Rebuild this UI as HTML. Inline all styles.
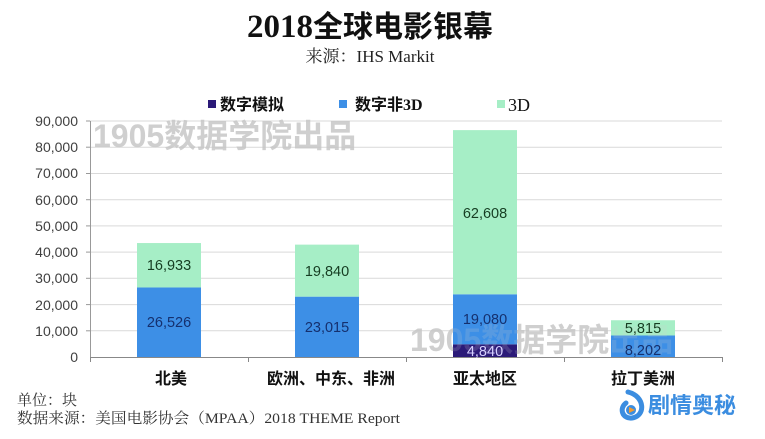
<!DOCTYPE html>
<html>
<head>
<meta charset="utf-8">
<style>
  html,body{margin:0;padding:0;background:#fff;}
  svg{display:block;}
</style>
</head>
<body>
<svg width="765" height="439" viewBox="0 0 765 439" xmlns="http://www.w3.org/2000/svg">
  <rect width="765" height="439" fill="#fff"/>

  <!-- Title -->
  <text x="370" y="37" text-anchor="middle" font-family="'Liberation Serif','Noto Sans CJK SC',serif" font-weight="bold" font-size="33" fill="#111">2018<tspan font-family="'Noto Sans CJK SC',sans-serif" font-size="30">全球电影银幕</tspan></text>
  <text x="370" y="62" text-anchor="middle" font-family="'Liberation Serif','Noto Serif CJK SC',serif" font-size="17" fill="#222">来源：IHS  Markit</text>

  <!-- Legend -->
  <rect x="208" y="100" width="8" height="8" fill="#2b1a78"/>
  <text x="220" y="110" font-family="'Liberation Serif','Noto Sans CJK SC',sans-serif" font-weight="bold" font-size="16" fill="#111">数字模拟</text>
  <rect x="339" y="100" width="8" height="8" fill="#3d8fe6"/>
  <text x="355" y="110" font-family="'Liberation Serif','Noto Sans CJK SC',sans-serif" font-weight="bold" font-size="16" fill="#111">数字非3D</text>
  <rect x="497" y="100" width="8" height="8" fill="#a6eec6"/>
  <text x="508" y="111" font-family="'Liberation Serif','Noto Sans CJK SC',serif" font-size="18" fill="#111">3D</text>

  <!-- Gridlines -->
  <g stroke="#d9d9d9" stroke-width="1">
    <line x1="90" y1="121" x2="722" y2="121"/>
    <line x1="90" y1="147.2" x2="722" y2="147.2"/>
    <line x1="90" y1="173.5" x2="722" y2="173.5"/>
    <line x1="90" y1="199.7" x2="722" y2="199.7"/>
    <line x1="90" y1="225.9" x2="722" y2="225.9"/>
    <line x1="90" y1="252.1" x2="722" y2="252.1"/>
    <line x1="90" y1="278.3" x2="722" y2="278.3"/>
    <line x1="90" y1="304.6" x2="722" y2="304.6"/>
    <line x1="90" y1="330.8" x2="722" y2="330.8"/>
  </g>

  <!-- Watermark 1 -->
  <text x="93" y="147" font-family="'Liberation Sans','Noto Sans CJK SC',sans-serif" font-weight="bold" font-size="32" fill="#c4c4c4" opacity="0.8">1905数据学院出品</text>
  <!-- Watermark 2 (under bars) -->
  <text x="410" y="351" font-family="'Liberation Sans','Noto Sans CJK SC',sans-serif" font-weight="bold" font-size="32" fill="#c4c4c4" opacity="0.8">1905数据学院出品</text>

  <!-- Y axis labels -->
  <g font-family="'Liberation Sans',sans-serif" font-size="14" fill="#404040" text-anchor="end">
    <text x="78" y="126">90,000</text>
    <text x="78" y="152">80,000</text>
    <text x="78" y="178">70,000</text>
    <text x="78" y="205">60,000</text>
    <text x="78" y="231">50,000</text>
    <text x="78" y="257">40,000</text>
    <text x="78" y="283">30,000</text>
    <text x="78" y="310">20,000</text>
    <text x="78" y="336">10,000</text>
    <text x="78" y="362">0</text>
  </g>

  <!-- Axes -->
  <g stroke="#999" stroke-width="1">
    <line x1="90.5" y1="121" x2="90.5" y2="357"/>
    <line x1="86" y1="121" x2="90" y2="121"/>
    <line x1="86" y1="147.2" x2="90" y2="147.2"/>
    <line x1="86" y1="173.5" x2="90" y2="173.5"/>
    <line x1="86" y1="199.7" x2="90" y2="199.7"/>
    <line x1="86" y1="225.9" x2="90" y2="225.9"/>
    <line x1="86" y1="252.1" x2="90" y2="252.1"/>
    <line x1="86" y1="278.3" x2="90" y2="278.3"/>
    <line x1="86" y1="304.6" x2="90" y2="304.6"/>
    <line x1="86" y1="330.8" x2="90" y2="330.8"/>
  </g>

  <!-- Bars -->
  <rect x="137" y="287.45" width="64" height="69.55" fill="#3d8fe6"/>
  <rect x="137" y="243.05" width="64" height="44.4" fill="#a6eec6"/>
  <rect x="295" y="296.65" width="64" height="60.35" fill="#3d8fe6"/>
  <rect x="295" y="244.63" width="64" height="52.02" fill="#a6eec6"/>
  <rect x="453" y="344.31" width="64" height="12.69" fill="#2b1a78"/>
  <rect x="453" y="294.28" width="64" height="50.03" fill="#3d8fe6"/>
  <rect x="453" y="130.12" width="64" height="164.16" fill="#a6eec6"/>
  <rect x="611" y="335.49" width="64" height="21.51" fill="#3d8fe6"/>
  <rect x="611" y="320.24" width="64" height="15.25" fill="#a6eec6"/>

  <!-- Watermark 2 faint overlay -->
  <text x="410" y="351" font-family="'Liberation Sans','Noto Sans CJK SC',sans-serif" font-weight="bold" font-size="32" fill="#d0d0d0" opacity="0.18">1905数据学院出品</text>

  <!-- x axis -->
  <g stroke="#888" stroke-width="1">
    <line x1="90" y1="357.5" x2="722" y2="357.5"/>
    <line x1="90.5" y1="357" x2="90.5" y2="362"/>
    <line x1="248.5" y1="357" x2="248.5" y2="362"/>
    <line x1="406.5" y1="357" x2="406.5" y2="362"/>
    <line x1="564.5" y1="357" x2="564.5" y2="362"/>
    <line x1="722.5" y1="357" x2="722.5" y2="362"/>
  </g>

  <!-- Data labels -->
  <g font-family="'Liberation Sans',sans-serif" font-size="14.5" text-anchor="middle">
    <text x="169" y="270" fill="#163d22">16,933</text>
    <text x="169" y="327" fill="#15306e">26,526</text>
    <text x="327" y="276" fill="#163d22">19,840</text>
    <text x="327" y="332" fill="#15306e">23,015</text>
    <text x="485" y="218" fill="#163d22">62,608</text>
    <text x="485" y="324" fill="#15306e">19,080</text>
    <text x="485" y="356" fill="#d6d0ff">4,840</text>
    <text x="643" y="333" fill="#163d22">5,815</text>
    <text x="643" y="355" fill="#15306e">8,202</text>
  </g>

  <!-- Category labels -->
  <g font-family="'Liberation Sans','Noto Sans CJK SC',sans-serif" font-weight="bold" font-size="16" fill="#111" text-anchor="middle">
    <text x="171" y="384">北美</text>
    <text x="331" y="384">欧洲、中东、非洲</text>
    <text x="485" y="384">亚太地区</text>
    <text x="643" y="384">拉丁美洲</text>
  </g>

  <!-- Footer -->
  <g font-family="'Liberation Serif','Noto Serif CJK SC',serif" font-size="15" fill="#333">
    <text x="17" y="405">单位：块</text>
    <text x="17" y="423" textLength="383" lengthAdjust="spacingAndGlyphs">数据来源：美国电影协会（MPAA）2018 THEME Report</text>
  </g>

  <!-- Logo -->
  <g>
    <path d="M628 392 C 645 396, 646 416, 632 418 C 622 419, 619 408, 626 403" fill="none" stroke="#3b8de0" stroke-width="5" stroke-linecap="round"/>
    <circle cx="631" cy="410" r="5" fill="#3b8de0"/>
    <path d="M629 407 L 635 410 L 629 413 Z" fill="#f29a2e"/>
    <text x="648" y="413" font-family="'Noto Sans CJK SC',sans-serif" font-weight="bold" font-size="22" fill="#3b8de0">剧情奥秘</text>
  </g>
</svg>
</body>
</html>
